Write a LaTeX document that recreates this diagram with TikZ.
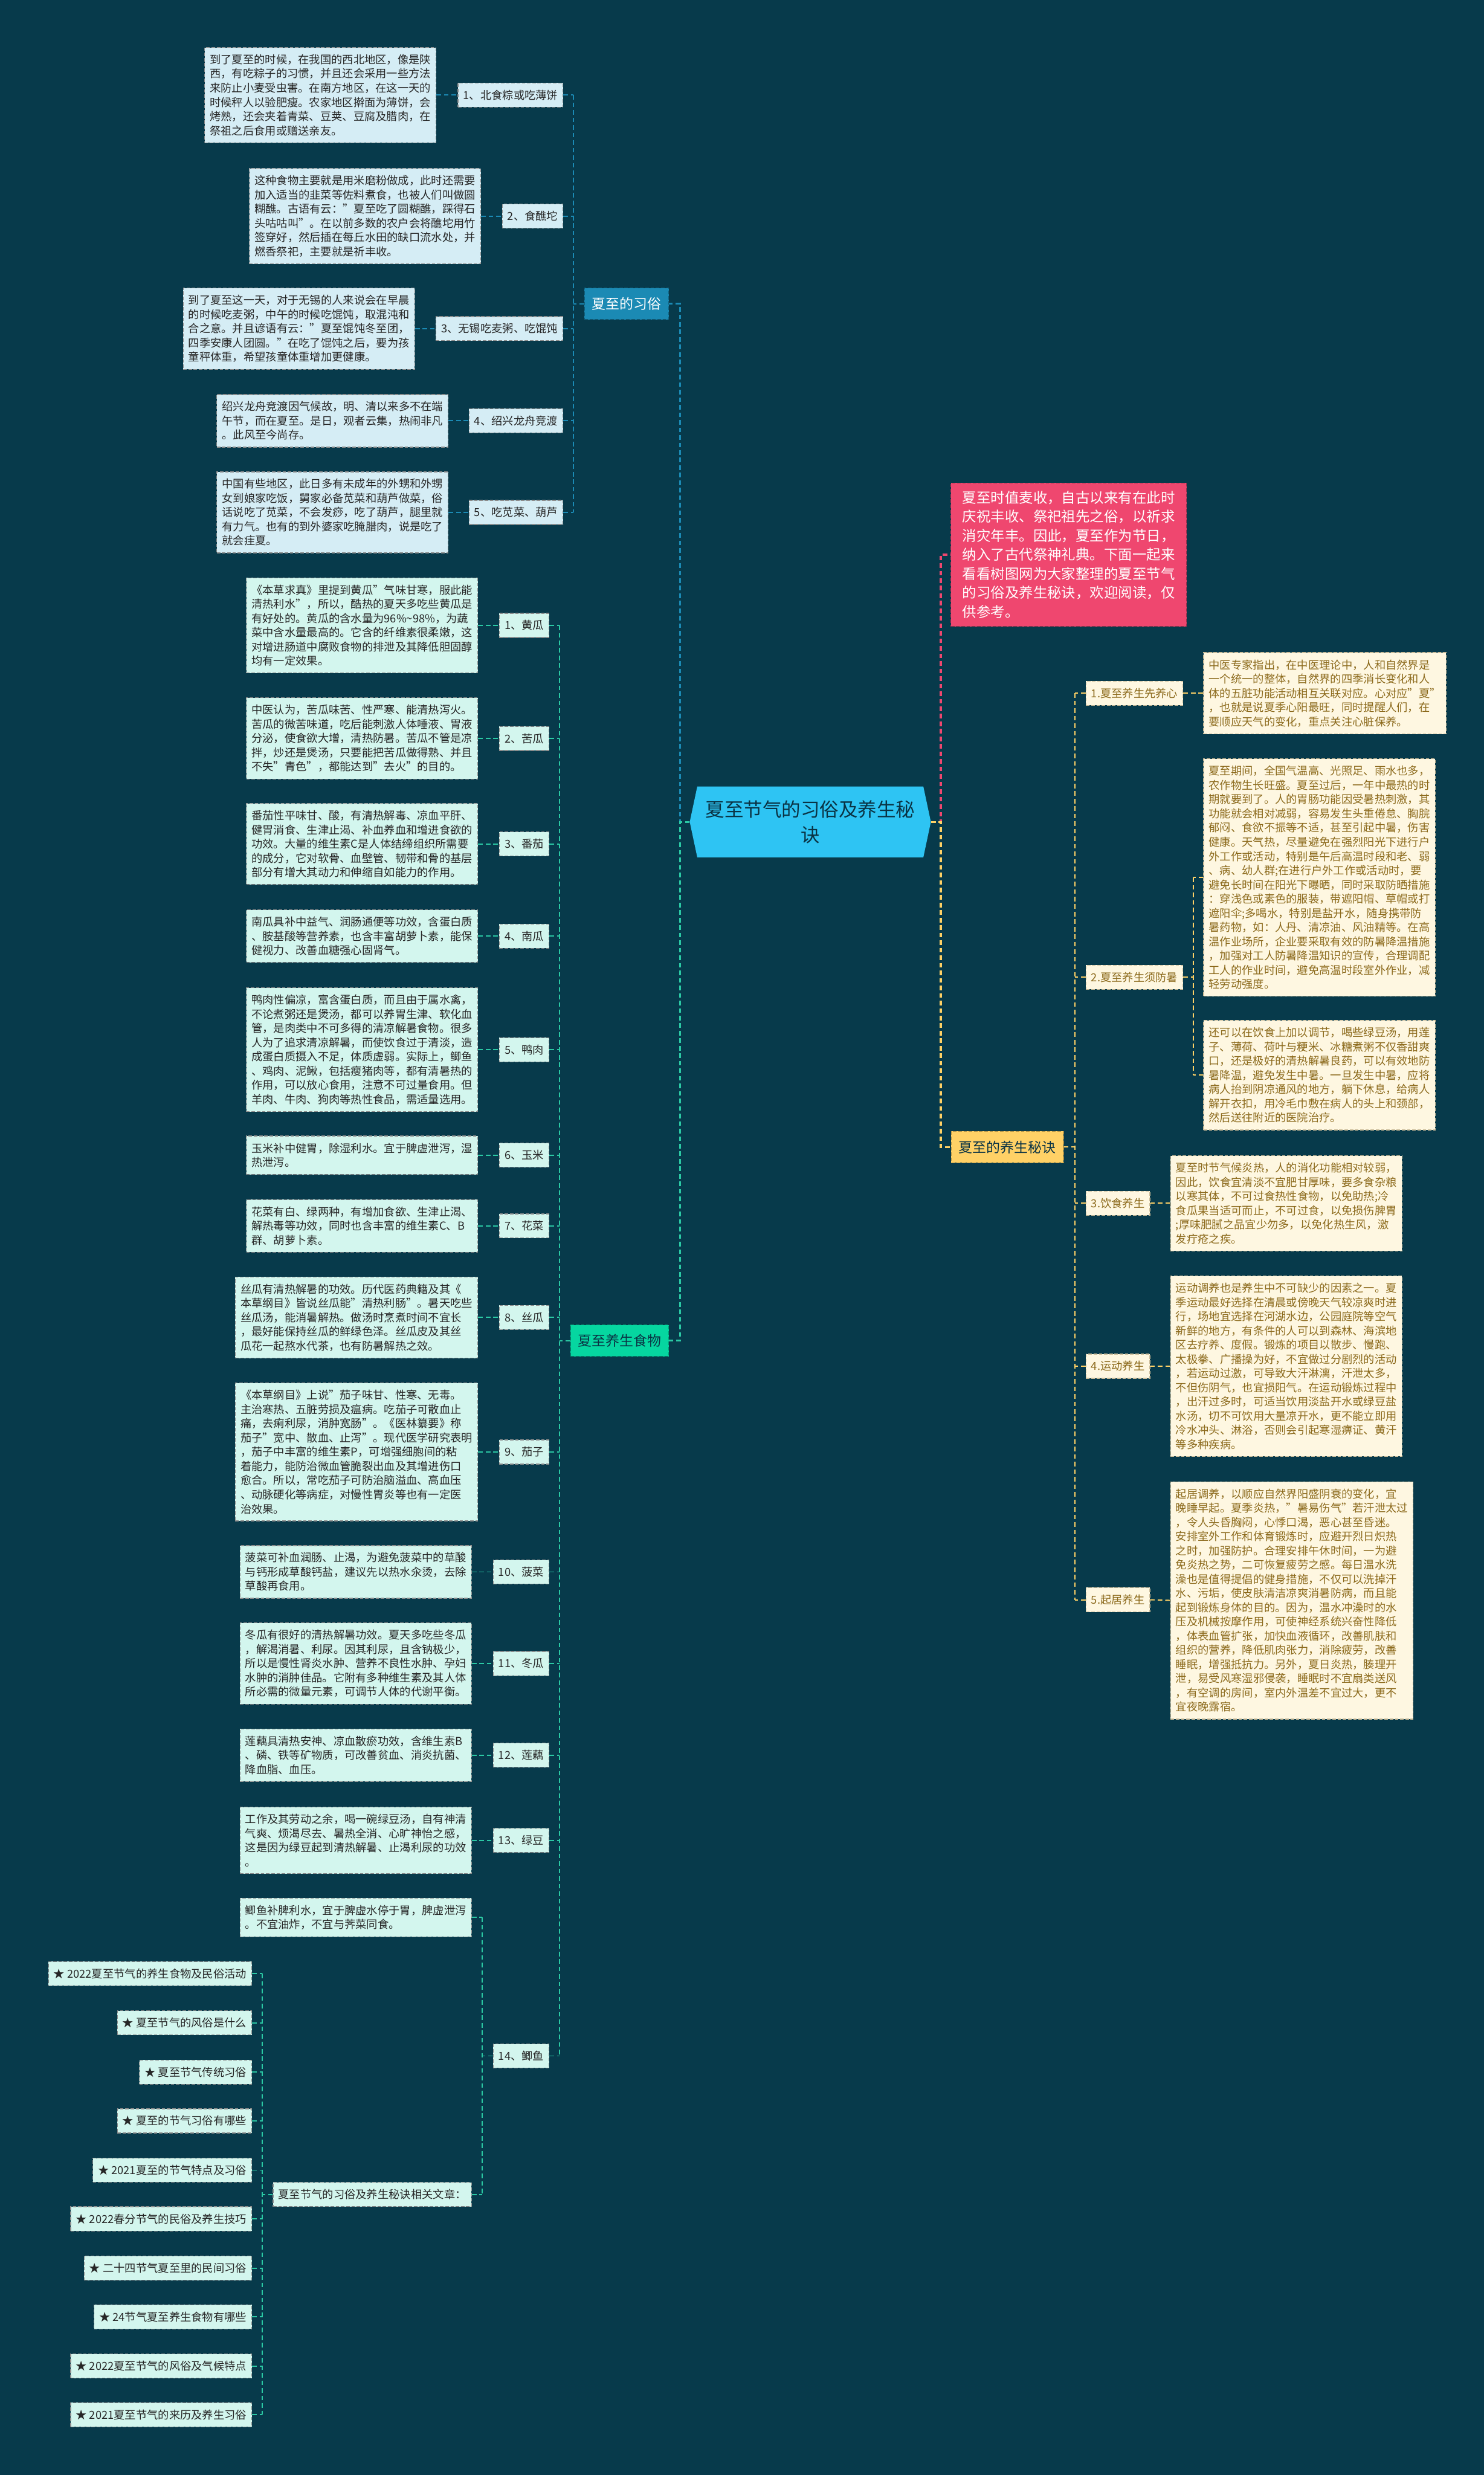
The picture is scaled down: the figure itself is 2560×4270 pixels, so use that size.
\documentclass[tikz,border=0pt]{standalone}
\usepackage{fontspec}
\setmainfont{Noto Sans CJK SC}
\usepackage{tikz}
\usetikzlibrary{shapes.symbols}

\definecolor{bgdark}{HTML}{073A4B}
\definecolor{rootblue}{HTML}{2EC4F3}
\definecolor{roottext}{HTML}{0A3344}
\definecolor{custblue}{HTML}{1B8AB4}
\definecolor{foodgreen}{HTML}{06D6A0}
\definecolor{foodline}{HTML}{2BC9A4}
\definecolor{tipyellow}{HTML}{FFD166}
\definecolor{intropink}{HTML}{EF476F}
\definecolor{custfill}{HTML}{D5EDF5}
\definecolor{foodfill}{HTML}{D3F6EE}
\definecolor{tipfill}{HTML}{FEF7E1}
\definecolor{tiptext}{HTML}{8C6A1C}

\newcommand{\boxfont}{\fontsize{10.85}{13.95}\selectfont}

\tikzset{
  box/.style={rectangle, draw=black!45, dash pattern=on 1.2mm off 0.6mm,
    line width=0.25mm, inner xsep=1.8mm, inner ysep=2.4mm, align=left,
    font=\boxfont, text=black!85},
  custbox/.style={box, fill=custfill},
  foodbox/.style={box, fill=foodfill},
  tipbox/.style={box, fill=tipfill, text=tiptext, draw=tiptext!45},
  branch/.style={rectangle, fill=#1, draw=#1!70!black,
    dash pattern=on 1.2mm off 0.6mm, line width=0.25mm,
    inner xsep=2.6mm, inner ysep=3.2mm, font=\fontsize{13.6}{16}\selectfont},
  rootnode/.style={signal, signal to=east and west, signal pointer angle=156,
    fill=rootblue, text=roottext, minimum width=83.2mm, minimum height=24.4mm,
    inner sep=0pt, align=center, font=\fontsize{18.7}{24.7}\selectfont},
  intronode/.style={rectangle, fill=intropink, draw=intropink!70!black,
    dash pattern=on 1.2mm off 0.6mm, line width=0.25mm, text=white,
    inner xsep=4mm, inner ysep=2.8mm, align=left,
    font=\fontsize{13.9}{18.7}\selectfont},
  trunk/.style={draw=#1, line width=0.7mm, dash pattern=on 1.6mm off 1mm},
  link/.style={draw=#1, line width=0.4mm, dash pattern=on 1.6mm off 1mm}
}

\begin{document}
\begin{tikzpicture}[x=0.2mm, y=-0.2mm]
\fill[bgdark] (0,0) rectangle (2560,4270);
\useasboundingbox (0,0) rectangle (2560,4270);

% centre and main branches
\node[rootnode] (root) at (1398,1418) {夏至节气的习俗及养生秘\\诀};
\node[branch=custblue, text=white] (custom) at (1081,524) {夏至的习俗};
\node[branch=foodgreen, text=roottext] (food) at (1069,2313) {夏至养生食物};
\node[branch=tipyellow, text=roottext] (tips) at (1738,1979) {夏至的养生秘诀};
\node[intronode, anchor=west] (intro) at (1640,957) {夏至时值麦收，自古以来有在此时\\
庆祝丰收、祭祀祖先之俗，以祈求\\
消灾年丰。因此，夏至作为节日，\\
纳入了古代祭神礼典。下面一起来\\
看看树图网为大家整理的夏至节气\\
的习俗及养生秘诀，欢迎阅读，仅\\
供参考。};

\coordinate (rl) at (1173,1418);
\coordinate (rr) at (1623,1418);
\draw[trunk=custblue] (root.west) -- (rl) |- (custom.east);
\draw[trunk=foodline] (root.west) -- (rl) |- (food.east);
\draw[trunk=intropink] (root.east) -- (rr) |- (intro.west);
\draw[trunk=tipyellow] (root.east) -- (rr) |- (tips.west);

% customs
\node[custbox, anchor=east] (c1) at (972,164) {1、北食粽或吃薄饼};
\node[custbox, anchor=east] (c2) at (972,373) {2、食醮坨};
\node[custbox, anchor=east] (c3) at (972,567) {3、无锡吃麦粥、吃馄饨};
\node[custbox, anchor=east] (c4) at (972,726) {4、绍兴龙舟竞渡};
\node[custbox, anchor=east] (c5) at (972,884) {5、吃苋菜、葫芦};

\node[custbox, anchor=east] (ct1) at (753,164) {到了夏至的时候，在我国的西北地区，像是陕\\
西，有吃粽子的习惯，并且还会采用一些方法\\
来防止小麦受虫害。在南方地区，在这一天的\\
时候秤人以验肥瘦。农家地区擀面为薄饼，会\\
烤熟，还会夹着青菜、豆荚、豆腐及腊肉，在\\
祭祖之后食用或赠送亲友。};
\node[custbox, anchor=east] (ct2) at (830,373) {这种食物主要就是用米磨粉做成，此时还需要\\
加入适当的韭菜等佐料煮食，也被人们叫做圆\\
糊醮。古语有云："夏至吃了圆糊醮，踩得石\\
头咕咕叫"。在以前多数的农户会将醮坨用竹\\
签穿好，然后插在每丘水田的缺口流水处，并\\
燃香祭祀，主要就是祈丰收。};
\node[custbox, anchor=east] (ct3) at (716,567) {到了夏至这一天，对于无锡的人来说会在早晨\\
的时候吃麦粥，中午的时候吃馄饨，取混沌和\\
合之意。并且谚语有云："夏至馄饨冬至团，\\
四季安康人团圆。"在吃了馄饨之后，要为孩\\
童秤体重，希望孩童体重增加更健康。};
\node[custbox, anchor=east] (ct4) at (774,726) {绍兴龙舟竞渡因气候故，明、清以来多不在端\\
午节，而在夏至。是日，观者云集，热闹非凡\\
。此风至今尚存。};
\node[custbox, anchor=east] (ct5) at (774,884) {中国有些地区，此日多有未成年的外甥和外甥\\
女到娘家吃饭，舅家必备苋菜和葫芦做菜，俗\\
话说吃了苋菜，不会发痧，吃了葫芦，腿里就\\
有力气。也有的到外婆家吃腌腊肉，说是吃了\\
就会疰夏。};

\coordinate (cj) at (989,524);
\draw[link=custblue] (custom.west) -- (cj);
\draw[link=custblue] (cj |- c1.east) -- (cj |- c5.east);
\foreach \i in {1,...,5} {
  \draw[link=custblue] (c\i.east) -- (cj |- c\i.east);
  \draw[link=custblue] (ct\i.east) -- (c\i.west);
}

% foods
\node[foodbox, anchor=east] (f1) at (948,1079) {1、黄瓜};
\node[foodbox, anchor=east] (f2) at (948,1274) {2、苦瓜};
\node[foodbox, anchor=east] (f3) at (948,1456) {3、番茄};
\node[foodbox, anchor=east] (f4) at (948,1615) {4、南瓜};
\node[foodbox, anchor=east] (f5) at (948,1811) {5、鸭肉};
\node[foodbox, anchor=east] (f6) at (948,1993) {6、玉米};
\node[foodbox, anchor=east] (f7) at (948,2115) {7、花菜};
\node[foodbox, anchor=east] (f8) at (948,2273) {8、丝瓜};
\node[foodbox, anchor=east] (f9) at (948,2505) {9、茄子};
\node[foodbox, anchor=east] (f10) at (948,2712) {10、菠菜};
\node[foodbox, anchor=east] (f11) at (948,2870) {11、冬瓜};
\node[foodbox, anchor=east] (f12) at (948,3028) {12、莲藕};
\node[foodbox, anchor=east] (f13) at (948,3175) {13、绿豆};
\node[foodbox, anchor=east] (f14) at (948,3547) {14、鲫鱼};

\node[foodbox, anchor=east] (ft1) at (825,1079) {《本草求真》里提到黄瓜"气味甘寒，服此能\\
清热利水"，所以，酷热的夏天多吃些黄瓜是\\
有好处的。黄瓜的含水量为96\%\textasciitilde98\%，为蔬\\
菜中含水量最高的。它含的纤维素很柔嫩，这\\
对增进肠道中腐败食物的排泄及其降低胆固醇\\
均有一定效果。};
\node[foodbox, anchor=east] (ft2) at (825,1274) {中医认为，苦瓜味苦、性严寒、能清热泻火。\\
苦瓜的微苦味道，吃后能刺激人体唾液、胃液\\
分泌，使食欲大增，清热防暑。苦瓜不管是凉\\
拌，炒还是煲汤，只要能把苦瓜做得熟、并且\\
不失"青色"，都能达到"去火"的目的。};
\node[foodbox, anchor=east] (ft3) at (825,1456) {番茄性平味甘、酸，有清热解毒、凉血平肝、\\
健胃消食、生津止渴、补血养血和增进食欲的\\
功效。大量的维生素C是人体结缔组织所需要\\
的成分，它对软骨、血壁管、韧带和骨的基层\\
部分有增大其动力和伸缩自如能力的作用。};
\node[foodbox, anchor=east] (ft4) at (825,1615) {南瓜具补中益气、润肠通便等功效，含蛋白质\\
、胺基酸等营养素，也含丰富胡萝卜素，能保\\
健视力、改善血糖强心固肾气。};
\node[foodbox, anchor=east] (ft5) at (825,1811) {鸭肉性偏凉，富含蛋白质，而且由于属水禽，\\
不论煮粥还是煲汤，都可以养胃生津、软化血\\
管，是肉类中不可多得的清凉解暑食物。很多\\
人为了追求清凉解暑，而使饮食过于清淡，造\\
成蛋白质摄入不足，体质虚弱。实际上，鲫鱼\\
、鸡肉、泥鳅，包括瘦猪肉等，都有清暑热的\\
作用，可以放心食用，注意不可过量食用。但\\
羊肉、牛肉、狗肉等热性食品，需适量选用。};
\node[foodbox, anchor=east] (ft6) at (825,1993) {玉米补中健胃，除湿利水。宜于脾虚泄泻，湿\\
热泄泻。};
\node[foodbox, anchor=east] (ft7) at (825,2115) {花菜有白、绿两种，有增加食欲、生津止渴、\\
解热毒等功效，同时也含丰富的维生素C、B\\
群、胡萝卜素。};
\node[foodbox, anchor=east] (ft8) at (825,2273) {丝瓜有清热解暑的功效。历代医药典籍及其《\\
本草纲目》皆说丝瓜能"清热利肠"。暑天吃些\\
丝瓜汤，能消暑解热。做汤时烹煮时间不宜长\\
，最好能保持丝瓜的鲜绿色泽。丝瓜皮及其丝\\
瓜花一起熬水代茶，也有防暑解热之效。};
\node[foodbox, anchor=east] (ft9) at (825,2505) {《本草纲目》上说"茄子味甘、性寒、无毒。\\
主治寒热、五脏劳损及瘟病。吃茄子可散血止\\
痛，去痢利尿，消肿宽肠"。《医林纂要》称\\
茄子"宽中、散血、止泻"。现代医学研究表明\\
，茄子中丰富的维生素P，可增强细胞间的粘\\
着能力，能防治微血管脆裂出血及其增进伤口\\
愈合。所以，常吃茄子可防治脑溢血、高血压\\
、动脉硬化等病症，对慢性胃炎等也有一定医\\
治效果。};
\node[foodbox, anchor=east] (ft10) at (814,2712) {菠菜可补血润肠、止渴，为避免菠菜中的草酸\\
与钙形成草酸钙盐，建议先以热水汆烫，去除\\
草酸再食用。};
\node[foodbox, anchor=east] (ft11) at (814,2870) {冬瓜有很好的清热解暑功效。夏天多吃些冬瓜\\
，解渴消暑、利尿。因其利尿，且含钠极少，\\
所以是慢性肾炎水肿、营养不良性水肿、孕妇\\
水肿的消肿佳品。它附有多种维生素及其人体\\
所必需的微量元素，可调节人体的代谢平衡。};
\node[foodbox, anchor=east] (ft12) at (814,3028) {莲藕具清热安神、凉血散瘀功效，含维生素B\\
、磷、铁等矿物质，可改善贫血、消炎抗菌、\\
降血脂、血压。};
\node[foodbox, anchor=east] (ft13) at (814,3175) {工作及其劳动之余，喝一碗绿豆汤，自有神清\\
气爽、烦渴尽去、暑热全消、心旷神怡之感，\\
这是因为绿豆起到清热解暑、止渴利尿的功效\\
。};
\node[foodbox, anchor=east] (ft14) at (814,3308) {鲫鱼补脾利水，宜于脾虚水停于胃，脾虚泄泻\\
。不宜油炸，不宜与荠菜同食。};
\node[foodbox, anchor=east] (rel) at (814,3786) {夏至节气的习俗及养生秘诀相关文章：};

\coordinate (fj) at (965,2313);
\draw[link=foodline] (food.west) -- (fj);
\draw[link=foodline] (fj |- f1.east) -- (fj |- f14.east);
\foreach \i in {1,...,14} {
  \draw[link=foodline] (f\i.east) -- (fj |- f\i.east);
}
\foreach \i in {1,...,13} {
  \draw[link=foodline] (ft\i.east) -- (f\i.west);
}

% carp: its text and the related list
\coordinate (kj) at (832,3547);
\draw[link=foodline] (f14.west) -- (kj);
\draw[link=foodline] (kj |- ft14.east) -- (kj |- rel.east);
\draw[link=foodline] (ft14.east) -- (kj |- ft14.east);
\draw[link=foodline] (rel.east) -- (kj |- rel.east);

\foreach \y/\t [count=\i] in {
  3405/{★ 2022夏至节气的养生食物及民俗活动},
  3490/{★ 夏至节气的风俗是什么},
  3575/{★ 夏至节气传统习俗},
  3659/{★ 夏至的节气习俗有哪些},
  3744/{★ 2021夏至的节气特点及习俗},
  3828/{★ 2022春分节气的民俗及养生技巧},
  3913/{★ 二十四节气夏至里的民间习俗},
  3997/{★ 24节气夏至养生食物有哪些},
  4082/{★ 2022夏至节气的风俗及气候特点},
  4166/{★ 2021夏至节气的来历及养生习俗}} {
  \node[foodbox, anchor=east] (s\i) at (435,\y) {\t};
}
\coordinate (sj) at (452,3786);
\draw[link=foodline] (rel.west) -- (sj);
\draw[link=foodline] (sj |- s1.east) -- (sj |- s10.east);
\foreach \i in {1,...,10} {
  \draw[link=foodline] (s\i.east) -- (sj |- s\i.east);
}

% health tips
\node[tipbox, anchor=west] (y1) at (1873,1196) {1.夏至养生先养心};
\node[tipbox, anchor=west] (y2) at (1873,1686) {2.夏至养生须防暑};
\node[tipbox, anchor=west] (y3) at (1873,2076) {3.饮食养生};
\node[tipbox, anchor=west] (y4) at (1873,2357) {4.运动养生};
\node[tipbox, anchor=west] (y5) at (1873,2760) {5.起居养生};

\node[tipbox, anchor=west] (yt1) at (2076,1196) {中医专家指出，在中医理论中，人和自然界是\\
一个统一的整体，自然界的四季消长变化和人\\
体的五脏功能活动相互关联对应。心对应"夏"\\
，也就是说夏季心阳最旺，同时提醒人们，在\\
要顺应天气的变化，重点关注心脏保养。};
\node[tipbox, anchor=west] (yt2a) at (2076,1514) {夏至期间，全国气温高、光照足、雨水也多，\\
农作物生长旺盛。夏至过后，一年中最热的时\\
期就要到了。人的胃肠功能因受暑热刺激，其\\
功能就会相对减弱，容易发生头重倦怠、胸脘\\
郁闷、食欲不振等不适，甚至引起中暑，伤害\\
健康。天气热，尽量避免在强烈阳光下进行户\\
外工作或活动，特别是午后高温时段和老、弱\\
、病、幼人群;在进行户外工作或活动时，要\\
避免长时间在阳光下曝晒，同时采取防晒措施\\
：穿浅色或素色的服装，带遮阳帽、草帽或打\\
遮阳伞;多喝水，特别是盐开水，随身携带防\\
暑药物，如：人丹、清凉油、风油精等。在高\\
温作业场所，企业要采取有效的防暑降温措施\\
，加强对工人防暑降温知识的宣传，合理调配\\
工人的作业时间，避免高温时段室外作业，减\\
轻劳动强度。};
\node[tipbox, anchor=west] (yt2b) at (2076,1855) {还可以在饮食上加以调节，喝些绿豆汤，用莲\\
子、薄荷、荷叶与粳米、冰糖煮粥不仅香甜爽\\
口，还是极好的清热解暑良药，可以有效地防\\
暑降温，避免发生中暑。一旦发生中暑，应将\\
病人抬到阴凉通风的地方，躺下休息，给病人\\
解开衣扣，用冷毛巾敷在病人的头上和颈部，\\
然后送往附近的医院治疗。};
\node[tipbox, anchor=west] (yt3) at (2019,2076) {夏至时节气候炎热，人的消化功能相对较弱，\\
因此，饮食宜清淡不宜肥甘厚味，要多食杂粮\\
以寒其体，不可过食热性食物，以免助热;冷\\
食瓜果当适可而止，不可过食，以免损伤脾胃\\
;厚味肥腻之品宜少勿多，以免化热生风，激\\
发疔疮之疾。};
\node[tipbox, anchor=west] (yt4) at (2019,2357) {运动调养也是养生中不可缺少的因素之一。夏\\
季运动最好选择在清晨或傍晚天气较凉爽时进\\
行，场地宜选择在河湖水边，公园庭院等空气\\
新鲜的地方，有条件的人可以到森林、海滨地\\
区去疗养、度假。锻炼的项目以散步、慢跑、\\
太极拳、广播操为好，不宜做过分剧烈的活动\\
，若运动过激，可导致大汗淋漓，汗泄太多，\\
不但伤阴气，也宜损阳气。在运动锻炼过程中\\
，出汗过多时，可适当饮用淡盐开水或绿豆盐\\
水汤，切不可饮用大量凉开水，更不能立即用\\
冷水冲头、淋浴，否则会引起寒湿痹证、黄汗\\
等多种疾病。};
\node[tipbox, anchor=west] (yt5) at (2019,2761) {起居调养，以顺应自然界阳盛阴衰的变化，宜\\
晚睡早起。夏季炎热，"暑易伤气"若汗泄太过\\
，令人头昏胸闷，心悸口渴，恶心甚至昏迷。\\
安排室外工作和体育锻炼时，应避开烈日炽热\\
之时，加强防护。合理安排午休时间，一为避\\
免炎热之势，二可恢复疲劳之感。每日温水洗\\
澡也是值得提倡的健身措施，不仅可以洗掉汗\\
水、污垢，使皮肤清洁凉爽消暑防病，而且能\\
起到锻炼身体的目的。因为，温水冲澡时的水\\
压及机械按摩作用，可使神经系统兴奋性降低\\
，体表血管扩张，加快血液循环，改善肌肤和\\
组织的营养，降低肌肉张力，消除疲劳，改善\\
睡眠，增强抵抗力。另外，夏日炎热，腠理开\\
泄，易受风寒湿邪侵袭，睡眠时不宜扇类送风\\
，有空调的房间，室内外温差不宜过大，更不\\
宜夜晚露宿。};

\coordinate (tj) at (1855,1979);
\draw[link=tipyellow] (tips.east) -- (tj);
\draw[link=tipyellow] (tj |- y1.west) -- (tj |- y5.west);
\foreach \i in {1,...,5} {
  \draw[link=tipyellow] (y\i.west) -- (tj |- y\i.west);
}
\draw[link=tipyellow] (y1.east) -- (yt1.west);
\draw[link=tipyellow] (y3.east) -- (yt3.west);
\draw[link=tipyellow] (y4.east) -- (yt4.west);
\draw[link=tipyellow] (y5.east) -- (yt5.west);

\coordinate (dj) at (2059,1686);
\draw[link=tipyellow] (y2.east) -- (dj);
\draw[link=tipyellow] (dj |- yt2a.west) -- (dj |- yt2b.west);
\draw[link=tipyellow] (yt2a.west) -- (dj |- yt2a.west);
\draw[link=tipyellow] (yt2b.west) -- (dj |- yt2b.west);
\end{tikzpicture}
\end{document}
